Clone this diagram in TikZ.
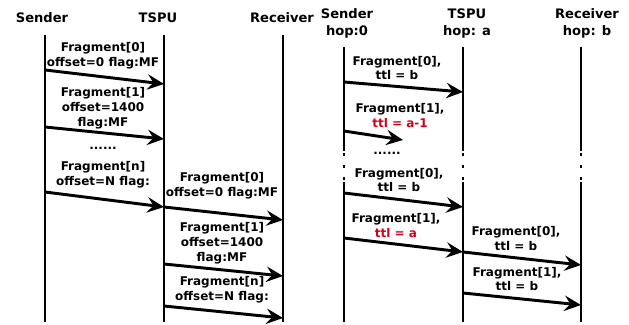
\documentclass[tikz,border=0pt]{standalone}
\usepackage{fontspec}
\setmainfont{DejaVu Sans}
\usetikzlibrary{arrows.meta}

\definecolor{ttlred}{RGB}{208,2,27}

\tikzset{every picture/.style={line width=0.75pt}}
\tikzset{
  life/.style={line width=2.2pt},
  lifedots/.style={line width=2.2pt, dash pattern=on 2.25pt off 6.75pt},
  msg/.style={line width=2.2pt, -{Stealth[length=12.5pt,width=11.5pt,inset=4.5pt]}},
  head/.style={inner sep=0.75pt, align=center, font=\fontsize{9.8pt}{12.6pt}\selectfont\bfseries},
  lbl/.style={inner sep=0.75pt, align=center, font=\fontsize{9pt}{11.2pt}\selectfont\bfseries}
}

\begin{document}
\begin{tikzpicture}[x=0.75pt,y=0.75pt,yscale=-1,xscale=1]
\useasboundingbox (0,0) rectangle (629,325);

% ---------- left panel: headers ----------
\node [head] (sndA) at (42,18) {Sender};
\node [head] (tspuA) at (158,18) {TSPU};
\node [head] (rcvA) at (282,18) {Receiver};

% lifelines
\coordinate (sndAtop) at (45,35);   \coordinate (sndAbot) at (45,322);
\coordinate (tspuAtop) at (164,35); \coordinate (tspuAbot) at (164,322);
\coordinate (rcvAtop) at (283,35);  \coordinate (rcvAbot) at (283,322);
\draw [life] (sndAtop) -- (sndAbot);
\draw [life] (tspuAtop) -- (tspuAbot);
\draw [life] (rcvAtop) -- (rcvAbot);

% sender -> tspu
\coordinate (a1s) at (45,70);   \coordinate (a1e) at (164,84);
\coordinate (a2s) at (45,127);  \coordinate (a2e) at (164,139);
\coordinate (a3s) at (45,192);  \coordinate (a3e) at (164,207);
\draw [msg] (a1s) -- (a1e);
\draw [msg] (a2s) -- (a2e);
\draw [msg] (a3s) -- (a3e);

% tspu -> receiver
\coordinate (a4s) at (164,207); \coordinate (a4e) at (283,220);
\coordinate (a5s) at (164,264); \coordinate (a5e) at (283,276);
\coordinate (a6s) at (164,306); \coordinate (a6e) at (283,318);
\draw [msg] (a4s) -- (a4e);
\draw [msg] (a5s) -- (a5e);
\draw [msg] (a6s) -- (a6e);

% Text Node
\node [lbl] (fragA0) at (103,55.5) {Fragment[0]\\offset=0 flag:MF};
% Text Node
\node [lbl] (fragA1) at (103,108) {Fragment[1]\\offset=1400\\flag:MF};
% Text Node
\node [lbl] (dotsA) at (103,148) {......};
% Text Node
\node [lbl] (fragAn) at (103,174.5) {Fragment[n]\\offset=N flag:};
% Text Node
\node [lbl] (fragB0) at (222,185.5) {Fragment[0]\\offset=0 flag:MF};
% Text Node
\node [lbl] (fragB1) at (222,243) {Fragment[1]\\offset=1400\\flag:MF};
% Text Node
\node [lbl] (fragBn) at (222,290) {Fragment[n]\\offset=N flag:};

% ---------- right panel: headers ----------
\node [head] (sndB) at (347,23.5) {Sender\\hop:0};
\node [head] (tspuB) at (467,23.5) {TSPU\\hop: a};
\node [head] (rcvB) at (587,23.5) {Receiver\\hop: b};

% lifelines, broken by dots
\foreach \nm/\xx in {sndB/344, tspuB/463, rcvB/581}{
  \coordinate (\nm top) at (\xx,47);
  \coordinate (\nm brk) at (\xx,151);
  \coordinate (\nm dot) at (\xx,153);
  \coordinate (\nm res) at (\xx,182);
  \coordinate (\nm bot) at (\xx,322);
  \draw [life] (\nm top) -- (\nm brk);
  \draw [lifedots] (\nm dot) -- (\nm res);
  \draw [life] (\nm res) -- (\nm bot);
}

% messages
\coordinate (b1s) at (344,82);  \coordinate (b1e) at (463,92);
\coordinate (b2s) at (344,131); \coordinate (b2e) at (403,140);
\coordinate (b3s) at (344,193); \coordinate (b3e) at (463,207);
\coordinate (b4s) at (344,238); \coordinate (b4e) at (463,252);
\coordinate (b5s) at (463,252); \coordinate (b5e) at (581,265);
\coordinate (b6s) at (463,293); \coordinate (b6e) at (581,305);
\draw [msg] (b1s) -- (b1e);
\draw [msg] (b2s) -- (b2e);
\draw [msg] (b3s) -- (b3e);
\draw [msg] (b4s) -- (b4e);
\draw [msg] (b5s) -- (b5e);
\draw [msg] (b6s) -- (b6e);

% Text Node
\node [lbl] (ttlB0) at (397,68) {Fragment[0],\\ttl = b};
% Text Node
\node [lbl] (ttlB1) at (400,115.5) {Fragment[1],\\\textcolor{ttlred}{ttl = a-1}};
% Text Node
\node [lbl] (dotsB) at (387,153) {......};
% Text Node
\node [lbl] (ttlC0) at (399,180) {Fragment[0],\\ttl = b};
% Text Node
\node [lbl] (ttlC1) at (396,225.5) {Fragment[1],\\\textcolor{ttlred}{ttl = a}};
% Text Node
\node [lbl] (ttlD0) at (516,238.5) {Fragment[0],\\ttl = b};
% Text Node
\node [lbl] (ttlD1) at (517,279) {Fragment[1],\\ttl = b};

\end{tikzpicture}
\end{document}
